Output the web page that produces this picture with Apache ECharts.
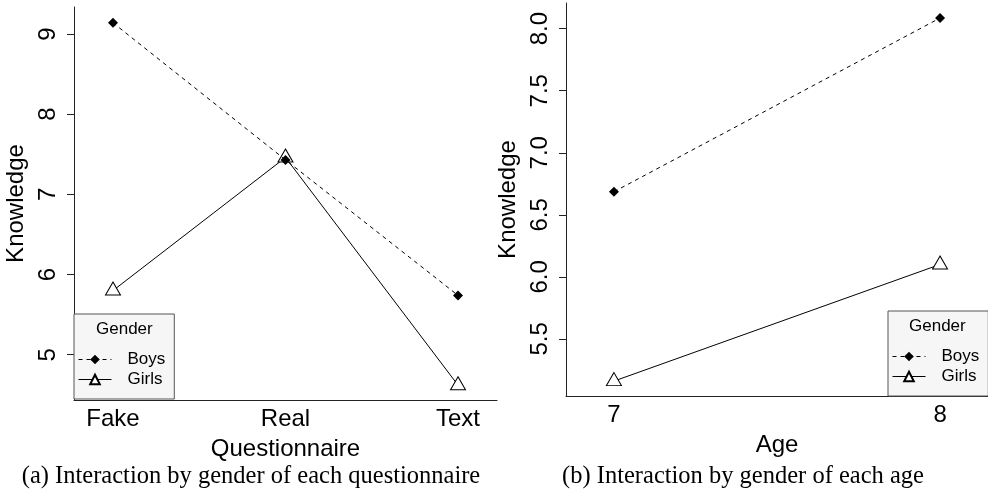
<!DOCTYPE html>
<html>
<head>
<meta charset="utf-8">
<script src="https://cdn.jsdelivr.net/npm/echarts@6/dist/echarts.min.js"></script>
<style>
  html, body { margin: 0; padding: 0; background: #fff; }
  #chart { width: 988px; height: 494px; }
</style>
</head>
<body>
<div id="chart"></div>
<script>
// Panel (a): mean knowledge by questionnaire type
const questionnaire = ['Fake', 'Real', 'Text'];
const qBoys = [9.14, 7.43, 5.74];
const qGirls = [5.80, 7.46, 4.62];
const qTicks = [5, 6, 7, 8, 9];

// Panel (b): mean knowledge by age
const ages = [7, 8];
const ageBoys = [6.686, 8.086];
const ageGirls = [5.16, 6.10];
const ageTicks = [5.5, 6.0, 6.5, 7.0, 7.5, 8.0];

const genders = ['Boys', 'Girls'];

const SANS = '"Liberation Sans", Arial, Helvetica, sans-serif';
const SERIF = '"Liberation Serif", "Times New Roman", serif';
const INK = '#000';
const AXIS = '#222';

const chart = echarts.init(document.getElementById('chart'), null, { renderer: 'canvas' });

function pairs(xs, ys) { return xs.map((x, i) => [x, ys[i]]); }

const boysLine = { color: INK, width: 1, type: [4, 4] };
const girlsLine = { color: INK, width: 1, type: 'solid' };
const boysSymbol = { symbol: 'diamond', symbolSize: [10, 10], itemStyle: { color: INK } };
const girlsSymbol = {
  symbol: 'triangle', symbolSize: [15, 13], symbolOffset: [0, -2],
  itemStyle: { color: '#fff', borderColor: INK, borderWidth: 1 }
};

function valueAxisX(gridIndex, min, max, labelValues, fmt, name) {
  return {
    type: 'value', gridIndex, min, max,
    splitLine: { show: false },
    axisLine: { show: true, onZero: false, lineStyle: { color: AXIS, width: 1 } },
    axisTick: { show: false },
    axisLabel: {
      customValues: labelValues, formatter: fmt,
      fontFamily: SANS, fontSize: 24, color: INK, margin: 7
    },
    name, nameLocation: 'middle', nameGap: 37,
    nameTextStyle: { fontFamily: SANS, fontSize: 24, color: INK }
  };
}

function valueAxisY(gridIndex, min, max, ticks, fmt) {
  return {
    type: 'value', gridIndex, min, max,
    splitLine: { show: false },
    axisLine: { show: true, onZero: false, lineStyle: { color: AXIS, width: 1 } },
    axisTick: { show: true, customValues: ticks, length: 7, lineStyle: { color: AXIS, width: 1 } },
    axisLabel: {
      customValues: ticks, formatter: fmt, rotate: 90,
      fontFamily: SANS, fontSize: 24, color: INK, margin: 14
    },
    name: 'Knowledge', nameLocation: 'middle', nameRotate: 90, nameGap: 46,
    nameTextStyle: { fontFamily: SANS, fontSize: 24, color: INK }
  };
}

function legendBox(left, top) {
  return {
    data: genders, orient: 'vertical', left, top,
    padding: [37, 9, 11, 4], itemGap: 3,
    itemWidth: 33, itemHeight: 12,
    backgroundColor: '#f6f6f6', borderColor: '#555', borderWidth: 1,
    selectedMode: false,
    lineStyle: { width: 1 },
    textStyle: { fontFamily: SANS, fontSize: 17, color: INK, padding: [0, 0, 0, 11] }
  };
}

function caption(x, text) {
  return {
    type: 'text', x, y: 477, z: 100,
    style: { text, font: '24.5px ' + SERIF, fill: INK, align: 'center', verticalAlign: 'middle' }
  };
}

chart.setOption({
  animation: false,
  backgroundColor: '#fff',
  grid: [
    { left: 74, top: 7, width: 423, height: 393 },
    { left: 566, top: 3, width: 422, height: 393 }
  ],
  xAxis: [
    valueAxisX(0, 0.774, 3.226, [1, 2, 3], v => questionnaire[Math.round(v) - 1], 'Questionnaire'),
    valueAxisX(1, 6.853, 8.147, ages, v => String(Math.round(v)), 'Age')
  ],
  yAxis: [
    valueAxisY(0, 4.435, 9.337, qTicks, v => String(v)),
    valueAxisY(1, 5.04, 8.207, ageTicks, v => v.toFixed(1))
  ],
  legend: [legendBox(74, 314), legendBox(888, 311)],
  graphic: [
    { type: 'text', left: 96, top: 321, z: 100,
      style: { text: 'Gender', font: '17px ' + SANS, fill: INK } },
    { type: 'text', left: 909, top: 318, z: 100,
      style: { text: 'Gender', font: '17px ' + SANS, fill: INK } },
    caption(251, '(a) Interaction by gender of each questionnaire'),
    caption(743, '(b) Interaction by gender of each age')
  ],
  series: [
    Object.assign({ name: 'Girls', type: 'line', xAxisIndex: 0, yAxisIndex: 0,
      data: pairs([1, 2, 3], qGirls), lineStyle: girlsLine, z: 2 }, girlsSymbol),
    Object.assign({ name: 'Boys', type: 'line', xAxisIndex: 0, yAxisIndex: 0,
      data: pairs([1, 2, 3], qBoys), lineStyle: boysLine, z: 3 }, boysSymbol),
    Object.assign({ name: 'Girls', type: 'line', xAxisIndex: 1, yAxisIndex: 1,
      data: pairs(ages, ageGirls), lineStyle: girlsLine, z: 2 }, girlsSymbol),
    Object.assign({ name: 'Boys', type: 'line', xAxisIndex: 1, yAxisIndex: 1,
      data: pairs(ages, ageBoys), lineStyle: boysLine, z: 3 }, boysSymbol)
  ]
});
</script>
</body>
</html>
